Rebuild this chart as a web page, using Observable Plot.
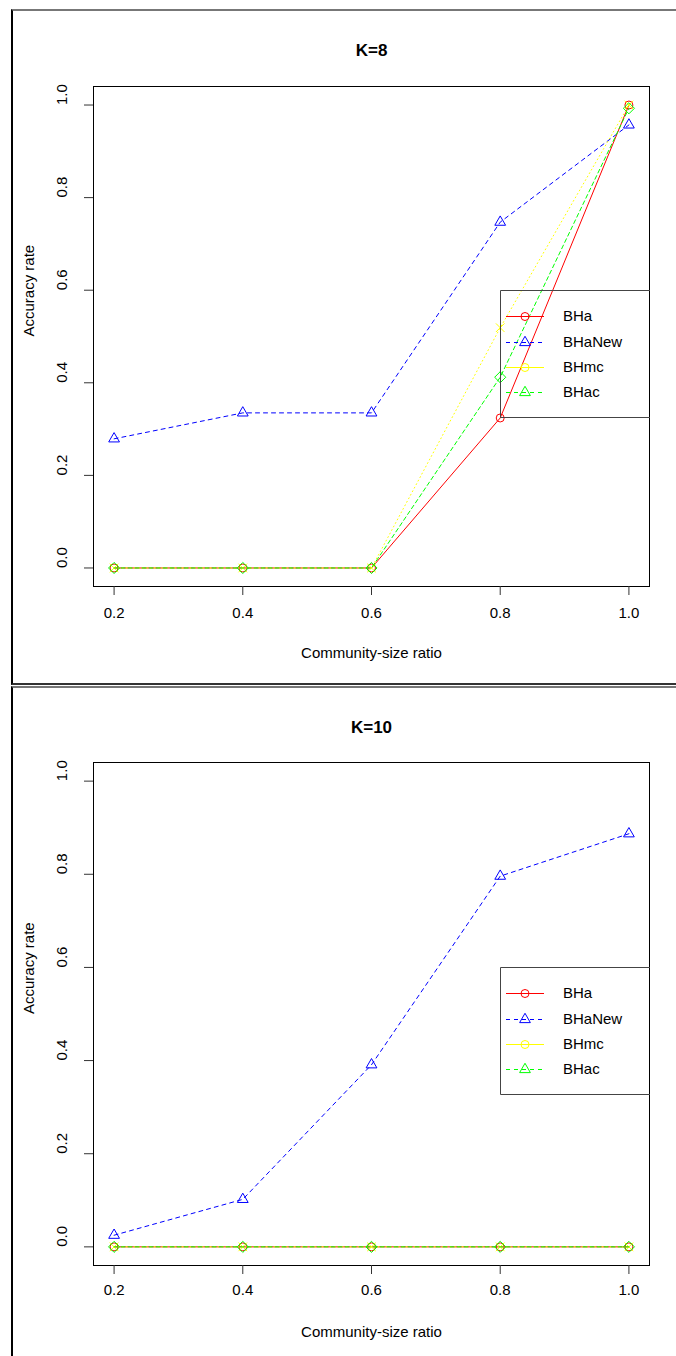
<!DOCTYPE html>
<html>
<head>
<meta charset="utf-8">
<script src="https://cdn.jsdelivr.net/npm/d3@7"></script>
<script src="https://cdn.jsdelivr.net/npm/@observablehq/plot@0.6"></script>
<style>
  html, body { margin: 0; padding: 0; background: #fff; }
  body { width: 676px; height: 1356px; overflow: hidden; position: relative; font-family: "Liberation Sans", Arial, sans-serif; }
  .frame { position: absolute; box-sizing: border-box; }
  .abs { position: absolute; }
</style>
</head>
<body>
<div id="root"></div>
<script>
// ---- data ----
const ratios = [0.2, 0.4, 0.6, 0.8, 1.0];
const seriesNames = ["BHa", "BHaNew", "BHmc", "BHac"];
const seriesColors = ["#FF0000", "#0000FF", "#FFFF00", "#00FF00"];
const xTicks = [0.2, 0.4, 0.6, 0.8, 1.0];
const yTicks = [0.0, 0.2, 0.4, 0.6, 0.8, 1.0];

const k8_BHa    = [0, 0, 0, 0.324, 1.0];
const k8_BHaNew = [0.279, 0.335, 0.335, 0.747, 0.957];
const k8_BHmc   = [0, 0, 0, 0.519, 1.0];
const k8_BHac   = [0, 0, 0, 0.412, 0.993];

const k10_BHa    = [0, 0, 0, 0, 0];
const k10_BHaNew = [0.025, 0.102, 0.391, 0.796, 0.887];
const k10_BHmc   = [0, 0, 0, 0, 0];
const k10_BHac   = [0, 0, 0, 0, 0];

const titles = ["K=8", "K=10"];
const xLabel = "Community-size ratio";
const yLabel = "Accuracy rate";

// ---- styles ----
const dataSymbols = ["circle", "triangle", "times", "diamond2"];
const dataDash = [null, "4,4", "1,3", "4,3"];
const legendSymbols = ["circle", "triangle", "circle", "triangle"];
const legendDash = [null, "4,4", null, "4,4"];
const FONT = "'Liberation Sans', Arial, sans-serif";

const root = document.getElementById("root");

function addDiv(css, cls) {
  const d = document.createElement("div");
  d.className = cls || "abs";
  Object.assign(d.style, css);
  root.appendChild(d);
  return d;
}

// page frames
addDiv({left: "11px", top: "9px", width: "700px", height: "676px",
  borderLeft: "2px solid #000", borderTop: "2px solid #777", borderBottom: "2px solid #333"}, "frame");
addDiv({left: "11px", top: "686px", width: "700px", height: "700px",
  borderLeft: "2px solid #000", borderTop: "2px solid #777"}, "frame");

function panel({title, values, top, height, mt, mb, titleDy, xTickPad, xLabelDy, legendTop}) {
  const rows = [];
  seriesNames.forEach((s, i) => ratios.forEach((r, j) => rows.push({series: s, x: r, y: values[i][j]})));
  const marks = [
    Plot.frame({stroke: "#000", strokeWidth: 1}),
    Plot.axisX({ticks: xTicks, tickSize: 9, tickPadding: xTickPad, tickFormat: d3.format(".1f"),
      fontSize: 15, label: null, stroke: "#333", fill: "#000"}),
    Plot.axisY({ticks: yTicks, tickSize: 9, tickFormat: () => "", label: null, stroke: "#333"}),
    Plot.text(yTicks, {y: d => d, text: d => d3.format(".1f")(d), frameAnchor: "left", dx: -31,
      rotate: -90, fontSize: 15, fill: "#000"}),
    Plot.text([yLabel], {text: d => d, frameAnchor: "left", dx: -64, rotate: -90, fontSize: 15, fill: "#000"}),
    Plot.text([xLabel], {text: d => d, frameAnchor: "bottom", dy: xLabelDy, fontSize: 15, fill: "#000"}),
    Plot.text([title], {text: d => d, frameAnchor: "top", dy: titleDy, fontSize: 17, fontWeight: "bold", fill: "#000"})
  ];
  seriesNames.forEach((s, i) => {
    const d = rows.filter(r => r.series === s);
    marks.push(Plot.line(d, {x: "x", y: "y", stroke: seriesColors[i], strokeWidth: 1,
      strokeDasharray: dataDash[i] || undefined}));
    marks.push(Plot.dot(d, {x: "x", y: "y", stroke: seriesColors[i], fill: "none", strokeWidth: 1,
      symbol: () => dataSymbols[i], r: dataSymbols[i] === "diamond2" ? 5 : 4}));
  });
  const svg = Plot.plot({
    width: 676, height,
    marginLeft: 93, marginRight: 27, marginTop: mt, marginBottom: mb,
    x: {domain: [0.168, 1.032], axis: null},
    y: {domain: [-0.04, 1.04], axis: null},
    symbol: {type: "identity"},
    style: {fontFamily: FONT, fontSize: "15px", background: "transparent", overflow: "visible", color: "#000"},
    marks
  });
  svg.style.position = "absolute";
  svg.style.left = "0px";
  svg.style.top = top + "px";
  root.appendChild(svg);

  // legend (R-style box, clipped at plot box right edge)
  const lw = 150, lh = 127;
  const lg = d3.create("svg").attr("width", lw).attr("height", lh + 1)
    .style("position", "absolute").style("left", "500px").style("top", legendTop + "px")
    .style("overflow", "hidden");
  lg.append("path").attr("d", `M${lw},0.5H0.5V${lh + 0.5}H${lw}`).attr("fill", "none").attr("stroke", "#444");
  const rowY = [26, 52, 77, 102];
  seriesNames.forEach((s, i) => {
    const g = lg.append("g").attr("transform", `translate(0,${rowY[i]})`);
    g.append("line").attr("x1", 6).attr("x2", 44).attr("y1", 0.5).attr("y2", 0.5)
      .attr("stroke", seriesColors[i]).attr("stroke-dasharray", legendDash[i]);
    const sym = legendSymbols[i] === "circle" ? d3.symbolCircle : d3.symbolTriangle;
    g.append("path").attr("d", d3.symbol(sym, Math.PI * 16)()).attr("transform", "translate(25,0.5)")
      .attr("fill", "none").attr("stroke", seriesColors[i]);
    g.append("text").attr("x", 63).attr("y", 0).attr("dy", "0.35em").text(s)
      .attr("font-family", FONT).attr("font-size", 15).attr("fill", "#000");
  });
  root.appendChild(lg.node());
}

panel({title: titles[0], values: [k8_BHa, k8_BHaNew, k8_BHmc, k8_BHac],
  top: 0, height: 686, mt: 86, mb: 100, titleDy: -43, xTickPad: 12, xLabelDy: 71, legendTop: 290});
panel({title: titles[1], values: [k10_BHa, k10_BHaNew, k10_BHmc, k10_BHac],
  top: 686, height: 670, mt: 76, mb: 91, titleDy: -42, xTickPad: 10, xLabelDy: 71, legendTop: 967});
</script>
</body>
</html>
